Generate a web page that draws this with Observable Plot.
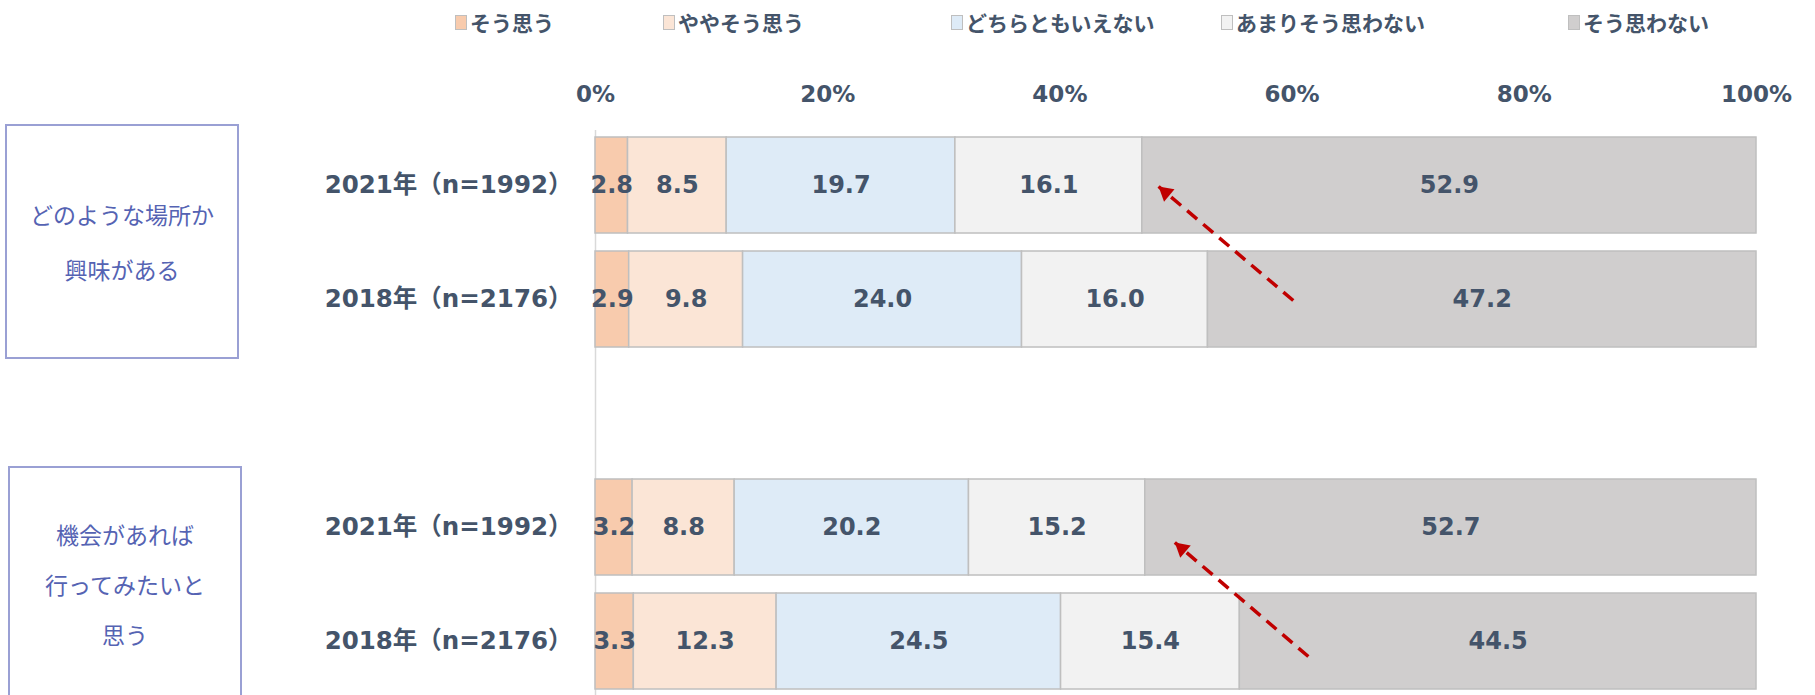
<!DOCTYPE html>
<html lang="ja">
<head>
<meta charset="utf-8">
<script src="https://cdn.jsdelivr.net/npm/d3@7"></script>
<script src="https://cdn.jsdelivr.net/npm/@observablehq/plot@0.6"></script>
<style>
  body { margin: 0; background: #fff; }
  #wrap { position: relative; width: 1815px; height: 695px; overflow: hidden; }
  #legend { position: relative; height: 44px; }
  .item { position: absolute; top: 7px; display: flex; align-items: center; white-space: nowrap;
          font-family: "Noto Sans CJK JP", sans-serif; font-weight: bold; font-size: 21px; color: #44546a; }
  .sw { width: 10px; height: 13px; border: 1px solid #bfbfbf; margin-right: 3px; }
  .box { position: absolute; box-sizing: border-box; border: 2.5px solid #9aa0d4;
         display: flex; flex-direction: column; justify-content: center; align-items: center;
         font-family: "Noto Sans CJK JP", sans-serif; font-size: 23px; color: #5563b3; }
  svg { display: block; }
</style>
</head>
<body>
<div id="wrap">
  <div id="legend"></div>
  <div id="chart"></div>
</div>
<script>
// Answer categories, in stacking order, with their fills
const categories = ["そう思う", "ややそう思う", "どちらともいえない", "あまりそう思わない", "そう思わない"];
const colors = ["#f8cbad", "#fbe5d6", "#deebf7", "#f2f2f2", "#d0cece"];

// Rows (one empty spacer row separates the two questions)
const rows = ["q1-2021", "q1-2018", "gap", "q2-2021", "q2-2018"];
const rowLabels = ["2021年（n=1992）", "2018年（n=2176）", "", "2021年（n=1992）", "2018年（n=2176）"];
const questions = [["どのような場所か", "興味がある"], ["機会があれば", "行ってみたいと", "思う"]];
const questionRows = [["q1-2021", "q1-2018"], ["q2-2021", "q2-2018"]];

// Shares (%) per row, in category order
const q1_2021 = [2.8, 8.5, 19.7, 16.1, 52.9];
const q1_2018 = [2.9, 9.8, 24.0, 16.0, 47.2];
const q2_2021 = [3.2, 8.8, 20.2, 15.2, 52.7];
const q2_2018 = [3.3, 12.3, 24.5, 15.4, 44.5];

// Axis ticks
const xTicks = [0, 0.2, 0.4, 0.6, 0.8, 1];

// Trend arrows: from the 2018 bar to the 2021 bar of each question
const arrowFromRow = ["q1-2018", "q2-2018"];
const arrowToRow = ["q1-2021", "q2-2021"];
const arrowFromX = [0.601, 0.614];
const arrowToX = [0.485, 0.499];

const series = {"q1-2021": q1_2021, "q1-2018": q1_2018, "q2-2021": q2_2021, "q2-2018": q2_2018};
const table = [];
for (const r of rows) {
  if (!series[r]) continue;
  series[r].forEach((v, i) => table.push({row: r, cat: categories[i], value: v}));
}
const labelOf = new Map(rows.map((r, i) => [r, rowLabels[i]]));
const arrows = arrowFromRow.map((r, i) => ({fromRow: r, toRow: arrowToRow[i], fromX: arrowFromX[i], toX: arrowToX[i]}));
const arrowShift = [1, 15];

// Legend
const legend = document.getElementById("legend");
const legendLeft = [455, 663, 951, 1221, 1568];
categories.forEach((c, i) => {
  const it = document.createElement("div");
  it.className = "item";
  it.style.left = legendLeft[i] + "px";
  const sw = document.createElement("span");
  sw.className = "sw";
  sw.style.background = colors[i];
  it.appendChild(sw);
  it.appendChild(document.createTextNode(c));
  legend.appendChild(it);
});

const RED = "#c00000";
const INK = "#44546a";
const baseOptions = {
  width: 1815,
  height: 651,
  marginLeft: 595,
  marginRight: 59,
  marginTop: 93,
  marginBottom: 6,
  style: {fontFamily: "'DejaVu Sans', 'Noto Sans CJK JP', sans-serif", background: "#fff"},
  x: {domain: [0, 1]},
  y: {domain: rows, paddingInner: 0.158, paddingOuter: 0},
  color: {domain: categories, range: colors}
};

function baseMarks() {
  return [
    Plot.ruleX([0], {stroke: "#d9d9d9", strokeWidth: 1.5, insetTop: -7, insetBottom: -6}),
    Plot.barX(table, Plot.stackX({x: "value", y: "row", fill: "cat", offset: "normalize",
      stroke: "#bfbfbf", strokeWidth: 1.5})),
    Plot.text(table, Plot.stackX({x: "value", y: "row", offset: "normalize",
      text: d => d.value.toFixed(1), fill: INK, fontWeight: "bold", fontSize: 24})),
    Plot.axisX(xTicks, {anchor: "top", tickFormat: d3.format(".0%"), tickSize: 0, tickPadding: 36,
      fontSize: 23, fontWeight: "bold", fill: INK, label: null}),
    Plot.axisY({anchor: "left", tickSize: 0, tickPadding: 23, tickFormat: r => labelOf.get(r),
      fontSize: 24.5, fontWeight: "bold", fill: INK, label: null})
  ];
}

// First pass: resolve scales to orient the arrowheads in screen space
const probe = Plot.plot({...baseOptions, marks: baseMarks()});
const xs = probe.scale("x"), ys = probe.scale("y");
const bw = ys.bandwidth;
const py = r => ys.apply(r) + bw / 2;

const arrowMarks = arrows.flatMap((a, i) => {
  const dxp = xs.apply(a.toX) - xs.apply(a.fromX);
  const dyp = py(a.toRow) - py(a.fromRow);
  const len = Math.hypot(dxp, dyp);
  const ux = dxp / len, uy = dyp / len;
  const angle = Math.atan2(dxp, -dyp) * 180 / Math.PI;
  const r = 6;
  const half = Math.sqrt(Math.PI * r * r / (3 * Math.sqrt(3)));
  const back = 2 * half;
  return [
    Plot.link([a], {x1: "fromX", y1: "fromRow", x2: "toX", y2: "toRow", stroke: RED, strokeWidth: 3.5,
      strokeDasharray: "13,8", dy: arrowShift[i]}),
    Plot.dot([a], {x: "toX", y: "toRow", symbol: "triangle", r, fill: RED, stroke: null, rotate: angle,
      dx: -back * ux, dy: arrowShift[i] - back * uy})
  ];
});

const chart = Plot.plot({...baseOptions, marks: [...baseMarks(), ...arrowMarks]});
document.getElementById("chart").appendChild(chart);

// Question boxes framing each pair of bars
const wrap = document.getElementById("wrap");
const top0 = 44;
const boxX = [[5, 239], [8, 242]];
const lineH = [55, 50];
questions.forEach((lines, i) => {
  const [ra, rb] = questionRows[i];
  const t = top0 + ys.apply(ra) - 13;
  const b = top0 + ys.apply(rb) + bw + 12;
  const box = document.createElement("div");
  box.className = "box";
  box.style.left = boxX[i][0] + "px";
  box.style.width = (boxX[i][1] - boxX[i][0]) + "px";
  box.style.top = t + "px";
  box.style.height = (b - t) + "px";
  box.style.lineHeight = lineH[i] + "px";
  lines.forEach(s => {
    const d = document.createElement("div");
    d.textContent = s;
    box.appendChild(d);
  });
  wrap.appendChild(box);
});
</script>
</body>
</html>
